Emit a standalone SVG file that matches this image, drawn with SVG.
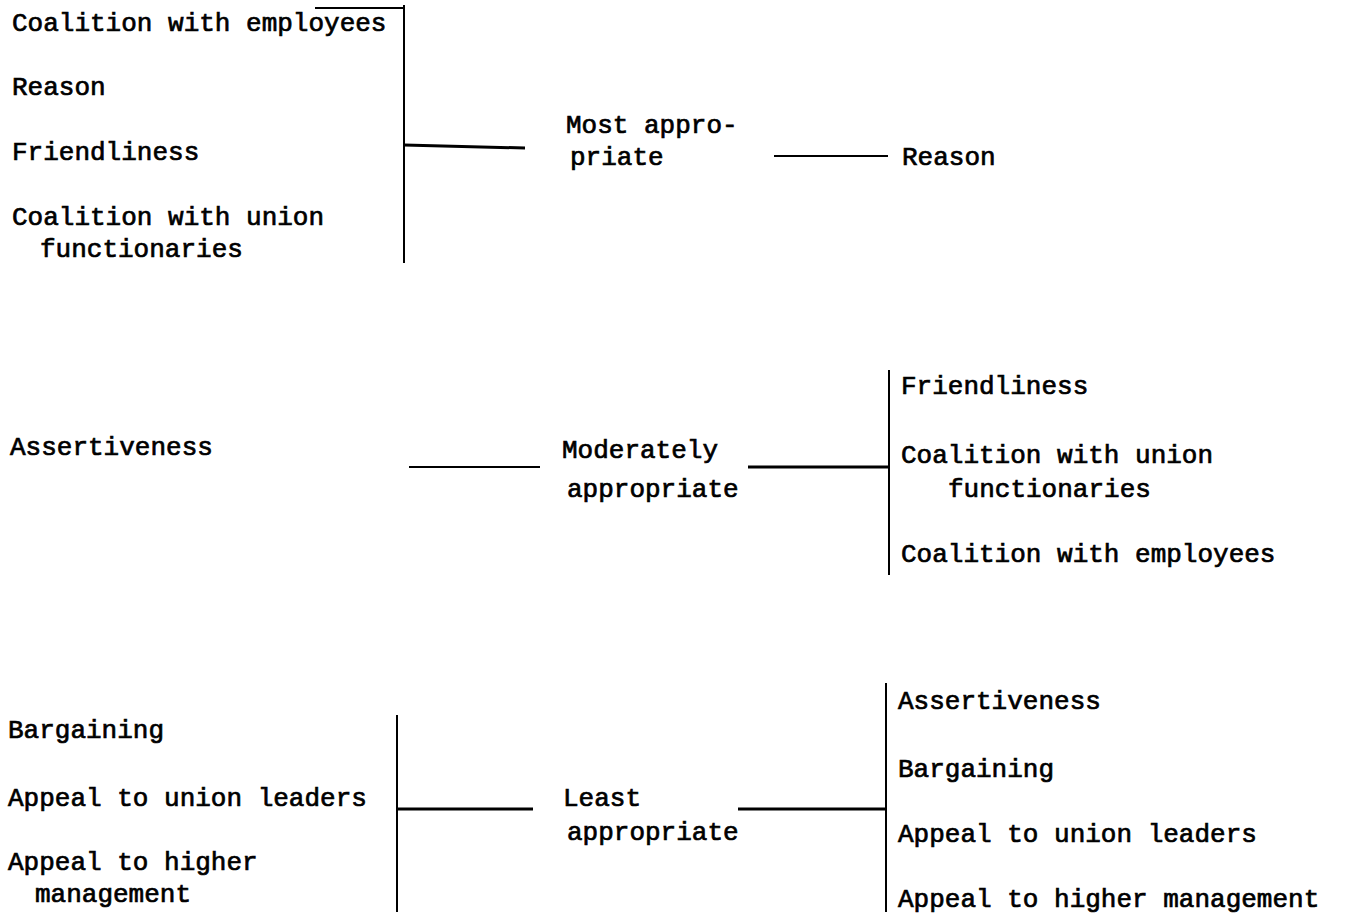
<svg xmlns="http://www.w3.org/2000/svg" width="1347" height="916" viewBox="0 0 1347 916">
<style>
text{font-family:"Liberation Mono","DejaVu Sans Mono",monospace;font-size:26px;fill:#000;stroke:#000;stroke-width:0.7px}
.ln{stroke:#000;stroke-width:2;fill:none}
.th{stroke-width:3}
</style>
<rect width="1347" height="916" fill="#fff"/>
<g id="top-left">
<text x="12" y="31">Coalition with employees</text>
<text x="12" y="95">Reason</text>
<text x="12" y="160">Friendliness</text>
<text x="12" y="225">Coalition with union</text>
<text x="40" y="257">functionaries</text>
</g>
<g id="most">
<text x="566" y="133">Most appro-</text>
<text x="570" y="165">priate</text>
</g>
<g id="top-right">
<text x="902" y="165">Reason</text>
</g>
<g id="mid-left">
<text x="10" y="455">Assertiveness</text>
</g>
<g id="moderately">
<text x="562" y="458">Moderately</text>
<text x="567" y="497">appropriate</text>
</g>
<g id="mid-right">
<text x="901" y="394">Friendliness</text>
<text x="901" y="463">Coalition with union</text>
<text x="948" y="497">functionaries</text>
<text x="901" y="562">Coalition with employees</text>
</g>
<g id="bottom-left">
<text x="8" y="738">Bargaining</text>
<text x="8" y="806">Appeal to union leaders</text>
<text x="8" y="870">Appeal to higher</text>
<text x="35" y="902">management</text>
</g>
<g id="least">
<text x="563" y="806">Least</text>
<text x="567" y="840">appropriate</text>
</g>
<g id="bottom-right">
<text x="898" y="709">Assertiveness</text>
<text x="898" y="777">Bargaining</text>
<text x="898" y="842">Appeal to union leaders</text>
<text x="898" y="907">Appeal to higher management</text>
</g>
<g id="connectors">
<path class="ln" d="M315 8H404M404 5V263"/>
<path class="ln th" d="M404 145L525 148"/>
<path class="ln" d="M774 156H888"/>
<path class="ln" d="M409 467H540"/>
<path class="ln th" d="M748 467H888"/>
<path class="ln" d="M889 370V575"/>
<path class="ln" d="M397 715V912"/>
<path class="ln th" d="M397 809H533"/>
<path class="ln th" d="M738 809H886"/>
<path class="ln" d="M886 683V912"/>
</g>
</svg>
